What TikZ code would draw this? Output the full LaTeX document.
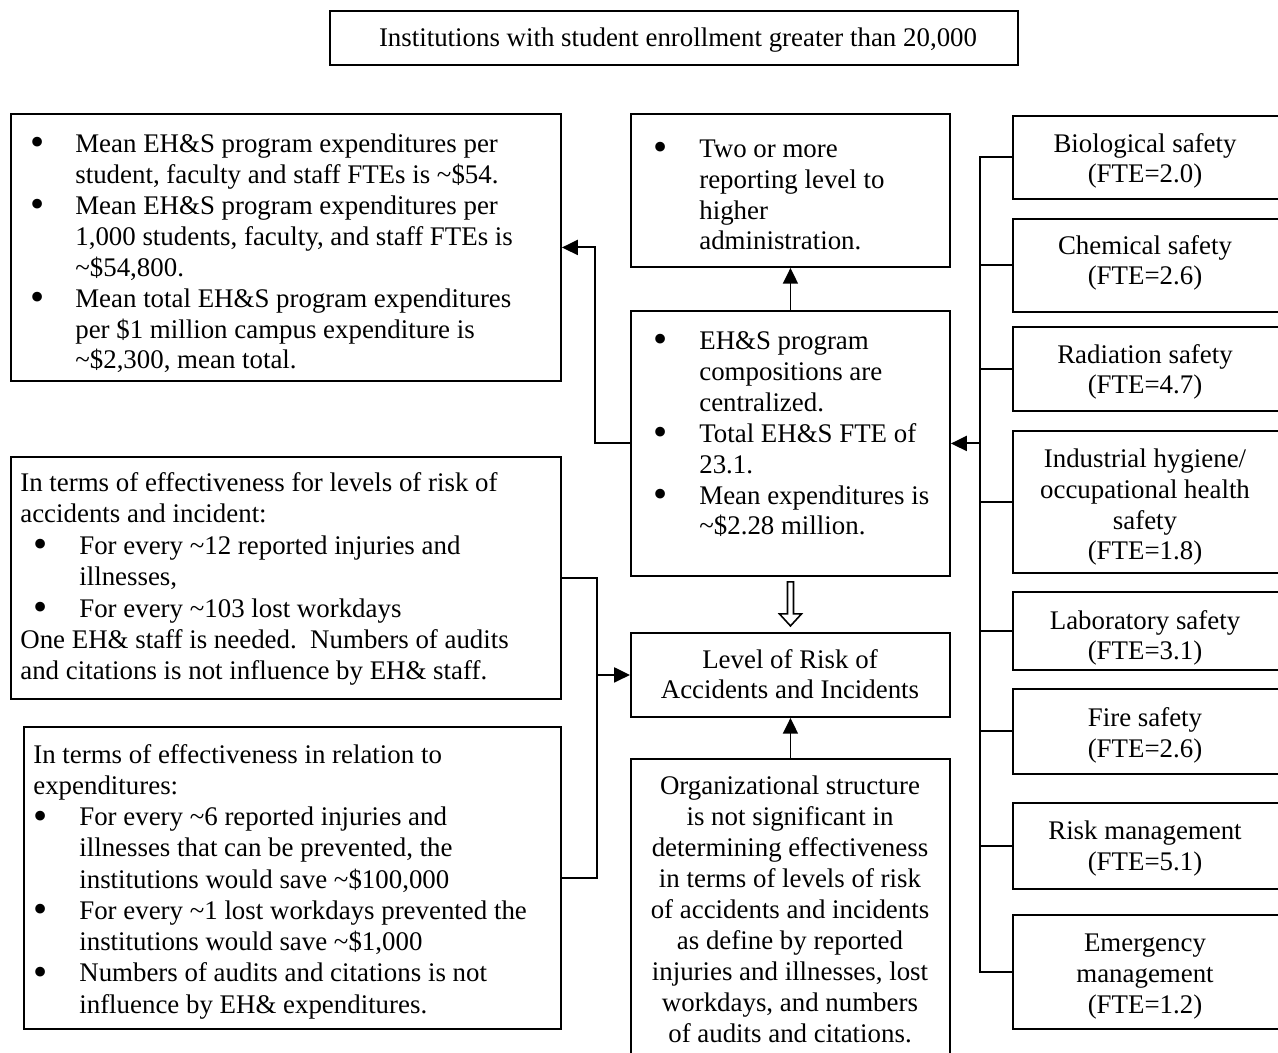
\documentclass[tikz,border=0pt]{standalone}
\usepackage{fontspec}
\setmainfont{Liberation Serif}
\usetikzlibrary{arrows.meta,calc}
\newlength\px
\setlength\px{0.02cm}
% bullet followed by a fixed gap, and a plain indent for continuation lines
\newcommand\bl[1]{\makebox[#1\px][l]{\hspace*{-2\px}\raisebox{-2.1pt}{\fontsize{23}{23}\selectfont\textbullet}}}
\newcommand\ind[1]{\hspace*{#1\px}}
\newcommand\tl{\textasciitilde}

\begin{document}
\begin{tikzpicture}[x=0.02cm,y=-0.02cm,
  box/.style={draw,line width=1.1pt,rectangle,inner sep=0pt,anchor=north west},
  % text blocks are placed by the baseline of their last line
  txt/.style={inner sep=0pt,align=left,anchor=base west,font=\fontsize{15.3}{17.64}\selectfont},
  ctxt/.style={inner sep=0pt,align=center,anchor=base,font=\fontsize{15.3}{17.64}\selectfont},
  link/.style={line width=1.1pt},
  arr/.style={link,-{Triangle[length=9pt,width=8.5pt]}}]

\useasboundingbox (0,0) rectangle (1278,1053);
\fill[white] (0,0) rectangle (1278,1053);
\clip (0,0) rectangle (1278,1053);

% ---- boxes ----
\node[box,minimum width=688\px,minimum height=54\px]  (title) at (329,10) {};
\node[box,minimum width=550\px,minimum height=267\px] (tl)    at (10,113) {};
\node[box,minimum width=319\px,minimum height=153\px] (tm)    at (630,113) {};
\node[box,minimum width=319\px,minimum height=265\px] (mid)   at (630,310) {};
\node[box,minimum width=319\px,minimum height=84\px]  (lvl)   at (630,632) {};
\node[box,minimum width=319\px,minimum height=330\px] (bot)   at (630,758) {};
\node[box,minimum width=550\px,minimum height=242\px] (lm)    at (10,456) {};
\node[box,minimum width=537\px,minimum height=302\px] (lb)    at (23,726) {};

\node[box,minimum width=290\px,minimum height=83\px]  (bio)  at (1012,115) {};
\node[box,minimum width=290\px,minimum height=93\px]  (chem) at (1012,218) {};
\node[box,minimum width=290\px,minimum height=84\px]  (rad)  at (1012,326) {};
\node[box,minimum width=290\px,minimum height=142\px] (ind)  at (1012,430) {};
\node[box,minimum width=290\px,minimum height=78\px]  (lab)  at (1012,591) {};
\node[box,minimum width=290\px,minimum height=85\px]  (fire) at (1012,688) {};
\node[box,minimum width=290\px,minimum height=86\px]  (risk) at (1012,802) {};
\node[box,minimum width=290\px,minimum height=114\px] (emg)  at (1012,914) {};

% ---- texts ----
\node[ctxt] (ttitle) at (678,47) {Institutions with student enrollment greater than 20,000};

\node[txt] (ttl) at (32,369) {%
\bl{43}Mean EH\&S program expenditures per\\
\ind{43}student, faculty and staff FTEs is \tl\$54.\\
\bl{43}Mean EH\&S program expenditures per\\
\ind{43}1,000 students, faculty, and staff FTEs is\\
\ind{43}\tl\$54,800.\\
\bl{43}Mean total EH\&S program expenditures\\
\ind{43}per \$1 million campus expenditure is\\
\ind{43}\tl\$2,300, mean total.};

\node[txt] (ttm) at (655,250) {%
\bl{44}Two or more\\
\ind{44}reporting level to\\
\ind{44}higher\\
\ind{44}administration.};

\node[txt] (tmid) at (655,535) {%
\bl{44}EH\&S program\\
\ind{44}compositions are\\
\ind{44}centralized.\\
\bl{44}Total EH\&S FTE of\\
\ind{44}23.1.\\
\bl{44}Mean expenditures is\\
\ind{44}\tl\$2.28 million.};

\node[ctxt] (tlvl) at (790,699) {Level of Risk of\\Accidents and Incidents};

\node[ctxt] (tbot) at (790,1042) {Organizational structure\\
is not significant in\\
determining effectiveness\\
in terms of levels of risk\\
of accidents and incidents\\
as define by reported\\
injuries and illnesses, lost\\
workdays, and numbers\\
of audits and citations.};

\node[txt,font=\fontsize{15.3}{17.9}\selectfont] (tlm) at (20,680) {%
In terms of effectiveness for levels of risk of\\
accidents and incident:\\
\ind{15}\bl{44}For every \tl12 reported injuries and\\
\ind{59}illnesses,\\
\ind{15}\bl{44}For every \tl103 lost workdays\\
One EH\& staff is needed.\ \ Numbers of audits\\
and citations is not influence by EH\& staff.};

\node[txt,font=\fontsize{15.3}{17.78}\selectfont] (tlb) at (33,1013) {%
In terms of effectiveness in relation to\\
expenditures:\\
\ind{2}\bl{44}For every \tl6 reported injuries and\\
\ind{46}illnesses that can be prevented, the\\
\ind{46}institutions would save \tl\$100,000\\
\ind{2}\bl{44}For every \tl1 lost workdays prevented the\\
\ind{46}institutions would save \tl\$1,000\\
\ind{2}\bl{44}Numbers of audits and citations is not\\
\ind{46}influence by EH\& expenditures.};

\node[ctxt] (tbio)  at (1145,183) {Biological safety\\(FTE=2.0)};
\node[ctxt] (tchem) at (1145,285) {Chemical safety\\(FTE=2.6)};
\node[ctxt] (trad)  at (1145,394) {Radiation safety\\(FTE=4.7)};
\node[ctxt] (tind)  at (1145,560) {Industrial hygiene/\\occupational health\\safety\\(FTE=1.8)};
\node[ctxt] (tlab)  at (1145,660) {Laboratory safety\\(FTE=3.1)};
\node[ctxt] (tfire) at (1145,757) {Fire safety\\(FTE=2.6)};
\node[ctxt] (trisk) at (1145,870) {Risk management\\(FTE=5.1)};
\node[ctxt] (temg)  at (1145,1013) {Emergency\\management\\(FTE=1.2)};

% ---- connectors ----
\draw[arr] (mid.west) -- ++(-35,0) |- (tl.east);
\draw[arr] (mid.north) -- (tm.south);
\draw[arr] (bot.north) -- (lvl.south);

% spine feeding the program box from the safety areas
\draw[link] (bio.west) -- ++(-32,0) coordinate (sp) |- (emg.west);
\foreach \b in {chem,rad,ind,lab,fire,risk}
  \draw[link] (\b.west) -- (\b.west -| sp);
\draw[arr] (mid.east -| sp) -- (mid.east);

% bracket joining the two effectiveness boxes
\draw[link] (lm.east) -- ++(35,0) coordinate (br) |- (lb.east);
\draw[arr] (lvl.west -| br) -- (lvl.west);

% hollow arrow from the program box down to the risk box
\draw[line width=0.9pt] ($(mid.south)+(-3,5)$) -- ++(6,0) -- ++(0,32) -- ++(8,0)
  -- ++(-11,12) -- ++(-11,-12) -- ++(8,0) -- cycle;
\end{tikzpicture}
\end{document}
